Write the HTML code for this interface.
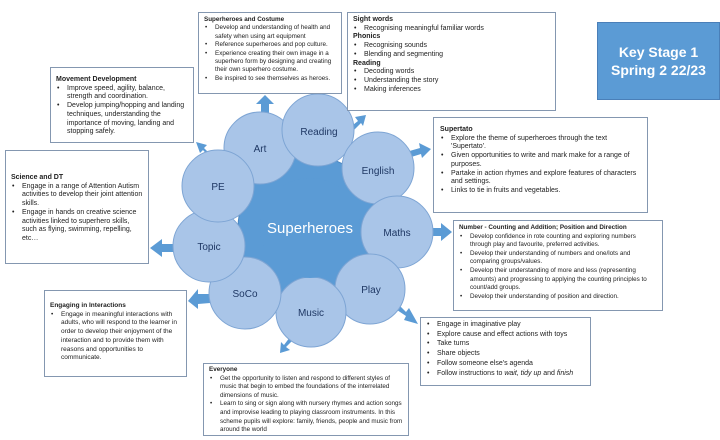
<!DOCTYPE html>
<html><head><meta charset="utf-8"><style>
body{margin:0;width:720px;height:440px;background:#fff;position:relative;overflow:hidden;font-family:"Liberation Sans",sans-serif;}
.b{position:absolute;background:#fff;border:1px solid #8497b0;box-sizing:border-box;font-size:7px;line-height:8.7px;color:#222;padding:3px 5px;}
.b b{font-weight:bold;display:block}
.b ul{margin:0;padding:0 0 0 11px;list-style:none}
.b li{position:relative}
.b li:before{content:"•";position:absolute;left:-10px}
svg{position:absolute;left:0;top:0}
</style></head><body>
<svg width="720" height="440">
<g fill="#5b9bd5">
<polygon points="261,115 261,104 256,104 265,95 274,104 269,104 269,115"/>
<polygon points="210,158 203,150 200,153 196,142 207,145 204,148 211,155"/>
<polygon points="349,128 358,121 355,117 366,115 363,126 361,123 353,131"/>
<polygon points="406,152 420,148 419,143 431,149 422,158 421,154 408,158"/>
<polygon points="430,228 441,228 441,223 452,232 441,241 441,236 430,236"/>
<polygon points="398,304 406,312 409,308 418,324 404,320 406,316 394,308"/>
<polygon points="293,340 286,347 290,350 280,353 281,342 284,345 290,337"/>
<polygon points="210,294 198,294 198,289 188,301 198,309 198,304 210,303"/>
<polygon points="174,244 162,244 162,239 150,248 162,257 162,252 174,252"/>
</g>
<circle cx="310" cy="228" r="72" fill="#5b9bd5" stroke="#4a86c0"/>
<g fill="#a9c5e8" stroke="#7ea5d4" stroke-width="1">
<circle cx="260" cy="148" r="36"/><circle cx="318" cy="130" r="36"/>
<circle cx="378" cy="168" r="36"/><circle cx="397" cy="232" r="36"/>
<circle cx="370" cy="289" r="35"/><circle cx="311" cy="312" r="35"/>
<circle cx="245" cy="293" r="36"/><circle cx="209" cy="246" r="36"/>
<circle cx="218" cy="186" r="36"/>
</g>
<circle cx="310" cy="228" r="50" fill="#5b9bd5"/>
<g font-family="Liberation Sans,sans-serif" font-size="10" fill="#1f3864" text-anchor="middle">
<text x="260" y="152">Art</text><text x="319" y="135">Reading</text>
<text x="378" y="174">English</text><text x="397" y="236">Maths</text>
<text x="371" y="293">Play</text><text x="311" y="316">Music</text>
<text x="245" y="297">SoCo</text><text x="209" y="250">Topic</text>
<text x="218" y="190">PE</text>
<text x="310" y="233" font-size="15" fill="#fff">Superheroes</text>
</g>
</svg>
<div class="b" style="left:198px;top:12px;width:144px;height:82px;font-size:6.3px;line-height:8.4px"><b>Superheroes and Costume</b><ul><li>Develop and understanding of health and safety when using art equipment</li><li>Reference superheroes and pop culture.</li><li>Experience creating their own image in a superhero form by designing and creating their own superhero costume.</li><li>Be inspired to see themselves as heroes.</li></ul></div>
<div class="b" style="left:347px;top:12px;width:209px;height:99px"><b>Sight words</b><ul><li>Recognising meaningful familiar words</li></ul><b>Phonics</b><ul><li>Recognising sounds</li><li>Blending and segmenting</li></ul><b>Reading</b><ul><li>Decoding words</li><li>Understanding the story</li><li>Making inferences</li></ul></div>
<div style="position:absolute;left:597px;top:22px;width:123px;height:78px;background:#5b9bd5;border:1px solid #4a7fb8;box-sizing:border-box;color:#fff;font-weight:bold;font-size:14px;line-height:18px;text-align:center;padding-top:20px">Key Stage 1<br>Spring 2 22/23</div>
<div class="b" style="left:50px;top:67px;width:144px;height:76px;padding-top:8px"><b>Movement Development</b><ul><li>Improve speed, agility, balance, strength and coordination.</li><li>Develop jumping/hopping and landing techniques, understanding the importance of moving, landing and stopping safely.</li></ul></div>
<div class="b" style="left:5px;top:150px;width:144px;height:114px;padding-top:23px"><b>Science and DT</b><ul><li>Engage in a range of Attention Autism activities to develop their joint attention skills.</li><li>Engage in hands on creative science activities linked to superhero skills, such as flying, swimming, repelling, etc…</li></ul></div>
<div class="b" style="left:433px;top:117px;width:215px;height:96px;padding:8px 6px"><b>Supertato</b><ul><li>Explore the theme of superheroes through the text 'Supertato'.</li><li>Given opportunities to write and mark make for a range of purposes.</li><li>Partake in action rhymes and explore features of characters and settings.</li><li>Links to tie in fruits and vegetables.</li></ul></div>
<div class="b" style="left:453px;top:220px;width:210px;height:91px;font-size:6.3px;line-height:8.6px"><b>Number - Counting and Addition; Position and Direction</b><ul><li>Develop confidence in rote counting and exploring numbers through play and favourite, preferred activities.</li><li>Develop their understanding of numbers and one/lots and comparing groups/values.</li><li>Develop their understanding of more and less (representing amounts) and progressing to applying the counting principles to count/add groups.</li><li>Develop their understanding of position and direction.</li></ul></div>
<div class="b" style="left:420px;top:317px;width:171px;height:69px;padding-top:2px;line-height:9.7px"><ul><li>Engage in imaginative play</li><li>Explore cause and effect actions with toys</li><li>Take turns</li><li>Share objects</li><li>Follow someone else's agenda</li><li>Follow instructions to <i>wait, tidy up</i> and <i>finish</i></li></ul></div>
<div class="b" style="left:44px;top:290px;width:143px;height:87px;padding-top:11px;font-size:6.5px"><b>Engaging in Interactions</b><ul><li>Engage in meaningful interactions with adults, who will respond to the learner in order to develop their enjoyment of the interaction and to provide them with reasons and opportunities to communicate.</li></ul></div>
<div class="b" style="left:203px;top:363px;width:206px;height:73px;font-size:6.3px;line-height:8.6px;padding-top:2px"><b>Everyone</b><ul><li>Get the opportunity to listen and respond to different styles of music that begin to embed the foundations of the interrelated dimensions of music.</li><li>Learn to sing or sign along with nursery rhymes and action songs and improvise leading to playing classroom instruments. In this scheme pupils will explore: family, friends, people and music from around the world</li></ul></div>
</body></html>
